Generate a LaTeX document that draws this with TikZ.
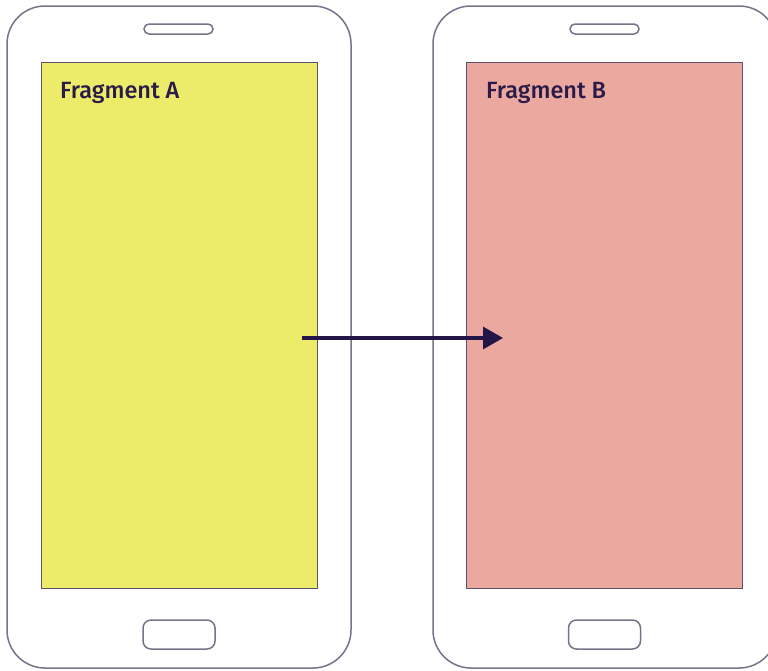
\documentclass[tikz,border=0pt]{standalone}
\usepackage{fontspec}
\setmainfont{Liberation Sans}
\newfontfamily\labelfont[UprightFont=* Medium]{Fira Sans}
\usetikzlibrary{arrows.meta}
\definecolor{bodyline}{HTML}{77738A}
\definecolor{screenline}{HTML}{5E4E70}
\definecolor{inkdark}{HTML}{2B1B4A}
\definecolor{arrowcol}{HTML}{231545}
\definecolor{fragA}{HTML}{ECEC6A}
\definecolor{fragB}{HTML}{EAA89F}
\tikzset{
  phonebody/.style={draw=bodyline, line width=1.5pt, rounded corners=38pt},
  speaker/.style={draw=bodyline, line width=1.5pt, rounded corners=5pt, minimum width=69pt, minimum height=10pt, inner sep=0pt},
  homebtn/.style={draw=bodyline, line width=1.5pt, rounded corners=8pt, minimum width=72pt, minimum height=29pt, inner sep=0pt},
  screen/.style={draw=screenline, line width=1pt, minimum width=276pt, minimum height=526pt, inner sep=0pt, anchor=north west},
  fraglabel/.style={text=inkdark, font=\labelfont\fontsize{23.5}{28}\selectfont, anchor=base west, inner sep=0pt},
  flow/.style={draw=arrowcol, line width=3.2pt, -{Triangle[length=20pt,width=22pt]}}
}
\begin{document}
\begin{tikzpicture}[x=1pt,y=-1pt]
  \useasboundingbox (0,0) rectangle (768,670);
  \clip (0,0) rectangle (768,670);
  \fill[white] (0,0) rectangle (768,670);

  % left phone
  \draw[phonebody] (7,6) rectangle (351,668);
  \node[speaker] (spkA) at (178.5,29) {};
  \node[homebtn] (homeA) at (179,634.5) {};
  \node[screen, fill=fragA] (scrA) at (41,62) {};
  \node[fraglabel] (labA) at (60,98) {Fragment A};

  % right phone
  \draw[phonebody] (433,6) rectangle (777,668);
  \node[speaker] (spkB) at (604.5,29) {};
  \node[homebtn] (homeB) at (604.5,634.5) {};
  \node[screen, fill=fragB] (scrB) at (466,62) {};
  \node[fraglabel] (labB) at (486,98) {Fragment B};

  % navigation from A to B
  \coordinate (src) at (302,338);
  \coordinate (dst) at (503,338);
  \draw[flow] (src) -- (dst);
\end{tikzpicture}
\end{document}
